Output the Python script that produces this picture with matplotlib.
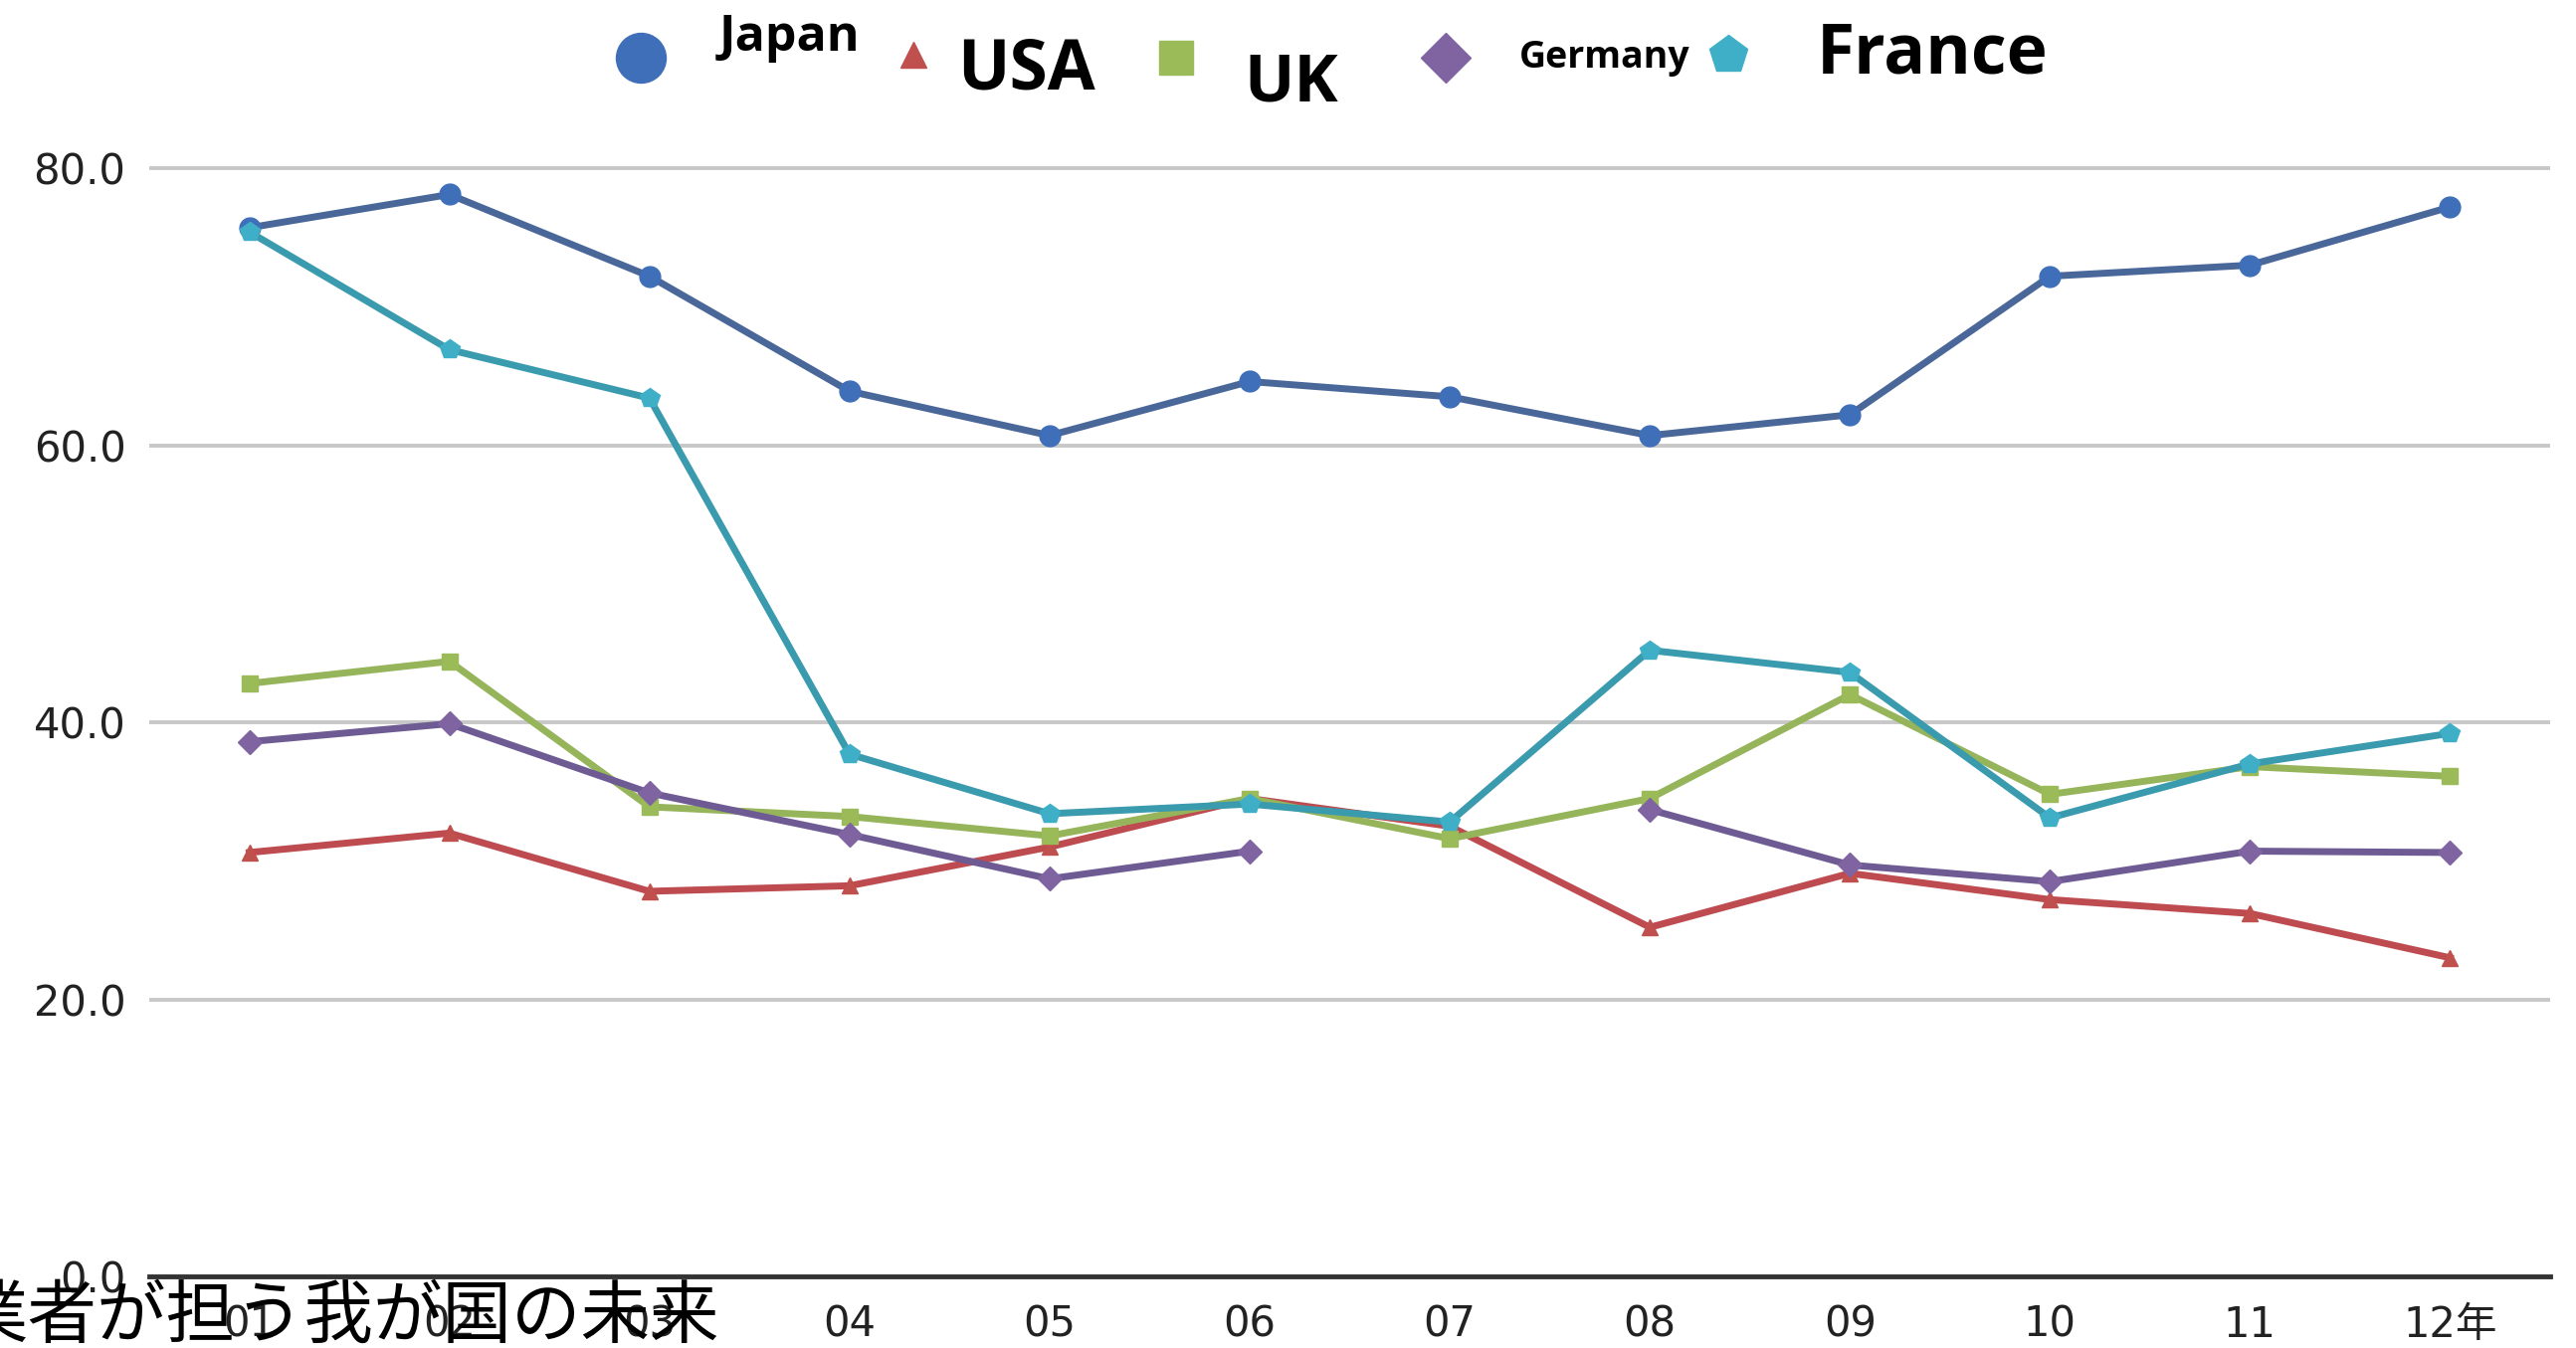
import numpy as np
import matplotlib
matplotlib.use("Agg")
import matplotlib.pyplot as plt
from matplotlib.lines import Line2D

plt.rcParams['font.family'] = ['DejaVu Sans', 'Noto Sans CJK JP']

years = ["01", "02", "03", "04", "05", "06", "07", "08", "09", "10", "11", "12年"]
series_names = ["Japan", "USA", "UK", "Germany", "France"]
japan = [75.7, 78.1, 72.2, 63.9, 60.7, 64.6, 63.5, 60.7, 62.2, 72.2, 73.0, 77.2]
usa = [30.6, 32.0, 27.8, 28.2, 31.0, 34.5, 32.5, 25.2, 29.1, 27.2, 26.2, 23.0]
uk = [42.8, 44.4, 33.9, 33.2, 31.8, 34.5, 31.6, 34.5, 42.0, 34.8, 36.8, 36.1]
germany = [38.6, 39.9, 34.9, 31.9, 28.7, 30.7, np.nan, 33.7, 29.7, 28.5, 30.7, 30.6]
france = [75.4, 66.9, 63.4, 37.7, 33.4, 34.1, 32.8, 45.2, 43.6, 33.1, 37.0, 39.2]
yticks = [0, 20, 40, 60, 80]
ytick_labels = ["0.0", "20.0", "40.0", "60.0", "80.0"]
caption = "業者が担う我が国の未来"

values = [japan, usa, uk, germany, france]
markers = ['o', '^', 's', 'D', 'p']
marker_colors = ['#3F6FB8', '#C0504D', '#9BBB59', '#8064A2', '#3FAFC8']
line_colors = ['#4A679A', '#BE4B4F', '#96B45A', '#6E5B94', '#3A9AAE']
plot_msizes = [15, 11, 12, 12, 15]

W, H = 2589, 1355
fig = plt.figure(figsize=(W / 100, H / 100), dpi=100)
fig.patch.set_facecolor('white')
ax = fig.add_axes([150 / W, 0.0531, (2563 - 150) / W, 0.8958 - 0.0531])

x = np.arange(len(years))
for vals, mk, mc, lc, ms in zip(values, markers, marker_colors, line_colors, plot_msizes):
    ax.plot(x, vals, color=lc, lw=5, marker=mk, markersize=ms,
            markerfacecolor=mc, markeredgecolor=mc, clip_on=False, zorder=3)

ax.set_xlim(-0.5, len(years) - 0.5)
ax.set_ylim(0, 82)
ax.set_yticks(yticks)
ax.set_yticklabels(ytick_labels)
ax.set_xticks(x)
ax.set_xticklabels(years)
ax.tick_params(axis='both', length=0, labelsize=30, labelcolor='#222222')
ax.tick_params(axis='y', pad=17)
ax.tick_params(axis='x', pad=20)
ax.yaxis.grid(True, color='#C8C8C8', lw=2.8)
ax.set_axisbelow(True)
for s in ['top', 'right', 'left']:
    ax.spines[s].set_visible(False)
ax.spines['bottom'].set_color('#333333')
ax.spines['bottom'].set_linewidth(3.5)
ax.spines['bottom'].set_zorder(4)

# Legend (manual placement)
leg_marker_px = [(644, 58), (918, 55), (1182, 58), (1453, 58), (1737, 55)]
leg_marker_sizes = [36, 19, 24, 25, 29]
leg_text_px = [(723, 51), (962, 89), (1250, 101), (1527, 68), (1826, 73)]
leg_font_sizes = [36, 50, 48, 27, 50]
for i, name in enumerate(series_names):
    mx, my = leg_marker_px[i]
    fig.add_artist(Line2D([mx / W], [1 - my / H], marker=markers[i], linestyle='none',
                          markersize=leg_marker_sizes[i], markerfacecolor=marker_colors[i],
                          markeredgecolor=marker_colors[i], transform=fig.transFigure))
    tx, ty = leg_text_px[i]
    fig.text(tx / W, 1 - ty / H, name, ha='left', va='baseline',
             fontsize=leg_font_sizes[i], fontweight='bold',
             family=['Open Sans', 'DejaVu Sans'], color='black')

fig.text(-42 / W, 0.023, caption, ha='left', va='center', fontsize=50,
         family=['Noto Sans CJK JP', 'DejaVu Sans'], color='black', zorder=10)

fig.savefig("out.png", dpi=100, facecolor='white')
